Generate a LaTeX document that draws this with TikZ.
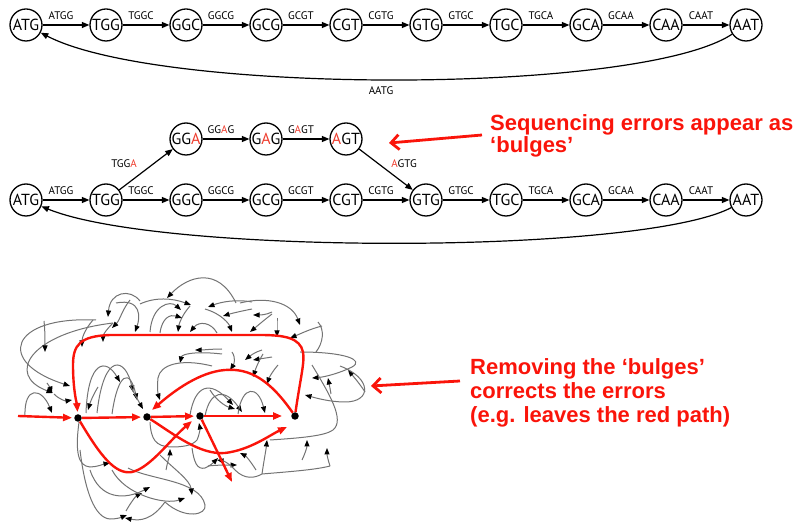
\documentclass[tikz,border=0pt]{standalone}
\usepackage{fontspec}
\newfontfamily\dnafont{PT Sans}
\newfontfamily\notefont{Liberation Sans}
\usetikzlibrary{arrows.meta}
\definecolor{alert}{RGB}{250,20,10}
\definecolor{mut}{RGB}{238,60,45}
\definecolor{wiregray}{RGB}{115,115,115}

\begin{document}
\begin{tikzpicture}[x=1pt,y=-1pt,
  kmer/.style={circle, draw, line width=1.3pt, minimum size=32pt, inner sep=0pt,
    font=\dnafont\fontsize{16}{16}\selectfont},
  link/.style={line width=1.2pt, -{Triangle[length=7.5pt,width=6pt]}},
  lab/.style={font=\dnafont\fontsize{11}{11}\selectfont, inner sep=0pt},
  note/.style={font=\notefont\bfseries\fontsize{22}{24}\selectfont, text=alert,
    anchor=base west, inner sep=0pt},
  pointer/.style={draw=alert, line width=2.8pt, -{Straight Barb[length=8pt,width=15pt]}},
  wire/.style={draw=wiregray, line width=1pt,
    -{Triangle[length=6.5pt,width=5pt,color=black]}},
  plainwire/.style={draw=wiregray, line width=1pt},
  redpath/.style={draw=alert, line width=2.4pt, -{Triangle[length=9pt,width=7pt]}},
  junction/.style={circle, fill=black, minimum size=7.5pt, inner sep=0pt}]

\useasboundingbox (0,0) rectangle (801,526);

% ---------- cyclic de Bruijn path ----------
\foreach \s [count=\i from 0] in {ATG,TGG,GGC,GCG,CGT,GTG,TGC,GCA,CAA,AAT}
  \node[kmer] (t\i) at (26+80*\i,25) {\s};
\foreach \e [count=\i from 0, evaluate=\i as \j using int(\i+1)] in
  {ATGG,TGGC,GGCG,GCGT,CGTG,GTGC,TGCA,GCAA,CAAT}
  \draw[link] (t\i) -- (t\j) node[lab, midway, above=5pt, xshift=-5pt] {\e};
\draw[link] (t9) .. controls (640,95) and (160,95) .. (t0);
\node[lab] (backlab) at (381,91) {AATG};

% ---------- same path with an error bulge ----------
\foreach \s [count=\i from 0] in {ATG,TGG,GGC,GCG,CGT,GTG,TGC,GCA,CAA,AAT}
  \node[kmer] (b\i) at (26+80*\i,200) {\s};
\foreach \e [count=\i from 0, evaluate=\i as \j using int(\i+1)] in
  {ATGG,TGGC,GGCG,GCGT,CGTG,GTGC,TGCA,GCAA,CAAT}
  \draw[link] (b\i) -- (b\j) node[lab, midway, above=5pt, xshift=-5pt] {\e};
\draw[link] (b9) .. controls (640,255) and (160,255) .. (b0);

\node[kmer] (u1) at (186,139) {GG\textcolor{mut}{A}};
\node[kmer] (u2) at (266,139) {G\textcolor{mut}{A}G};
\node[kmer] (u3) at (346,139) {\textcolor{mut}{A}GT};
\draw[link] (b1) -- (u1);
\draw[link] (u1) -- (u2) node[lab, midway, above=5pt, xshift=-5pt] {GG\textcolor{mut}{A}G};
\draw[link] (u2) -- (u3) node[lab, midway, above=5pt, xshift=-5pt] {G\textcolor{mut}{A}GT};
\draw[link] (u3) -- (b5);
\node[lab] (lab1) at (124,164) {TGG\textcolor{mut}{A}};
\node[lab] (lab2) at (404,164) {\textcolor{mut}{A}GTG};

% ---------- annotations ----------
\node[note] (noteA1) at (490,131) {Sequencing errors appear as};
\node[note] (noteA2) at (490,153) {‘bulges’};
\coordinate (tailA) at (482,135);
\coordinate (tipA) at (389,143);
\draw[pointer] (tailA) -- (tipA);

\node[note] (noteB1) at (470,375) {Removing the ‘bulges’};
\node[note] (noteB2) at (470,399) {corrects the errors};
\node[note] (noteB3) at (470,423) {(e.g. leaves the red path)};
\coordinate (tailB) at (460,381);
\coordinate (tipB) at (371,386);
\draw[pointer] (tailB) -- (tipB);

% ---------- tangled graph: grey edges ----------
% outer left loops
\draw[wire] (96,320) .. controls (10,316) and (-5,362) .. (70,386);
\draw[wire] (113,323) .. controls (30,333) and (5,375) .. (53,393);
\draw[wire] (44,321) .. controls (45,330) and (45,340) .. (45,352);
\draw[wire] (93,320) .. controls (86,328) and (82,337) .. (82,347);
\draw[wire] (113,323) .. controls (106,330) and (103,335) .. (103,342);
\draw[wire] (140,301) .. controls (130,288) and (110,292) .. (108,317);
\draw[wire] (130,300) .. controls (122,310) and (120,320) .. (112,328);
% top humps
\draw[wire] (236,303) .. controls (218,266) and (188,276) .. (167,298);
\draw[wire] (140,304) .. controls (155,297) and (172,298) .. (191,305);
\draw[wire] (116,303) .. controls (142,298) and (140,318) .. (135,332);
\draw[wire] (150,332) .. controls (152,305) and (170,300) .. (181,310);
\draw[wire] (190,306) .. controls (182,315) and (179,324) .. (178,332);
\draw[wire] (252,302) .. controls (236,299) and (221,302) .. (208,307);
\draw[wire] (252,309) .. controls (242,311) and (233,313) .. (223,316);
\draw[wire] (205,309) .. controls (222,314) and (229,324) .. (232,332);
\draw[wire] (217,333) .. controls (211,322) and (199,321) .. (190,332);
\draw[wire] (240,303) .. controls (268,296) and (292,303) .. (300,325);
\draw[wire] (272,312) .. controls (266,315) and (260,315) .. (253,315);
\draw[wire] (272,314) .. controls (263,321) and (256,327) .. (250,332);
\draw[wire] (277,318) .. controls (277,325) and (277,331) .. (277,337);
\draw[wire] (322,326) .. controls (310,329) and (300,334) .. (290,338);
\draw[wire] (160,333) .. controls (162,318) and (170,314) .. (182,318);
\draw[plainwire] (318,322) .. controls (325,330) and (323,343) .. (316,352);
% right wing and loop
\draw[wire] (300,352) .. controls (345,352) and (365,360) .. (352,367)
  .. controls (340,373) and (325,377) .. (312,378);
\draw[wire] (331,394) .. controls (330,388) and (329,383) .. (328,378);
\draw[wire] (365,392) .. controls (360,384) and (353,376) .. (348,370);
\draw[wire] (340,366) .. controls (372,378) and (372,402) .. (345,402)
  .. controls (330,402) and (316,398) .. (305,395);
% second layer
\draw[wire] (222,349) .. controls (212,349) and (203,350) .. (195,350);
\draw[wire] (222,354) .. controls (196,351) and (182,354) .. (180,363);
\draw[wire] (212,366) .. controls (180,358) and (160,365) .. (158,378)
  .. controls (157,388) and (158,394) .. (160,400);
\draw[wire] (232,352) .. controls (236,358) and (234,364) .. (230,370);
\draw[wire] (272,357) .. controls (266,358) and (259,359) .. (253,360);
\draw[wire] (263,354) .. controls (257,364) and (255,371) .. (253,377);
\draw[wire] (278,365) .. controls (272,372) and (269,378) .. (267,384);
\draw[wire] (262,350) .. controls (255,352) and (250,356) .. (245,360);
% arches between the junctions
\draw[wire] (86,413) .. controls (88,360) and (106,358) .. (120,382);
\draw[wire] (97,413) .. controls (104,350) and (126,358) .. (133,392);
\draw[wire] (112,414) .. controls (118,372) and (130,368) .. (137,400);
\draw[wire] (98,387) .. controls (93,395) and (90,403) .. (88,410);
\draw[wire] (130,385) .. controls (135,395) and (139,402) .. (143,409);
\draw[wire] (190,415) .. controls (195,385) and (210,380) .. (233,405);
\draw[wire] (205,416) .. controls (210,390) and (225,388) .. (242,412);
\draw[wire] (238,414) .. controls (242,385) and (258,385) .. (265,413);
\draw[wire] (210,390) .. controls (216,400) and (225,406) .. (235,409);
% lower left
\draw[wire] (25,416) .. controls (24,385) and (42,388) .. (52,413);
\draw[wire] (47,383) .. controls (50,387) and (51,390) .. (52,393);
\draw[wire] (54,394) .. controls (60,400) and (66,401) .. (72,400);
\draw[wire] (79,422) .. controls (75,452) and (78,466) .. (90,467)
  .. controls (97,467) and (104,464) .. (110,463);
\draw[wire] (80,450) .. controls (85,492) and (95,518) .. (110,519)
  .. controls (118,519) and (122,517) .. (127,515);
\draw[wire] (165,502) .. controls (152,520) and (140,521) .. (125,518);
\draw[wire] (126,511) .. controls (131,502) and (136,496) .. (142,493);
\draw[wire] (112,470) .. controls (125,495) and (165,505) .. (185,498);
\draw[wire] (90,470) .. controls (100,500) and (125,500) .. (150,487);
\draw[plainwire] (128,468) .. controls (150,480) and (200,480) .. (205,505)
  .. controls (207,515) and (185,520) .. (165,502);
% lower middle
\draw[wire] (150,422) .. controls (151,440) and (156,446) .. (170,447)
  .. controls (182,447) and (192,446) .. (197,440)
  .. controls (200,433) and (200,428) .. (199,423);
\draw[wire] (166,470) .. controls (168,460) and (170,453) .. (170,449);
\draw[wire] (192,448) .. controls (194,462) and (197,470) .. (205,468)
  .. controls (210,466) and (214,462) .. (218,458);
\draw[wire] (208,466) .. controls (216,465) and (228,465) .. (237,465);
\draw[wire] (160,455) .. controls (175,470) and (190,480) .. (192,495);
% lower right
\draw[wire] (262,474) .. controls (264,460) and (266,450) .. (267,440);
\draw[wire] (256,470) .. controls (251,462) and (246,456) .. (240,453);
\draw[wire] (235,470) .. controls (230,464) and (224,461) .. (217,460);
\draw[wire] (302,460) .. controls (305,454) and (307,447) .. (307,440);
\draw[wire] (330,466) .. controls (328,460) and (327,455) .. (327,448);
\draw[plainwire] (312,365) .. controls (330,395) and (345,420) .. (333,430)
  .. controls (325,436) and (300,438) .. (270,440);
\draw[plainwire] (262,474) .. controls (285,472) and (315,470) .. (330,466);
\draw[plainwire] (235,470) .. controls (245,480) and (255,478) .. (262,474);

% ---------- tangled graph: the surviving red path ----------
\coordinate (entry) at (18,416);
\node[junction] (n1) at (78,418) {};
\node[junction] (n2) at (147,417) {};
\node[junction] (n3) at (200,416) {};
\node[junction] (n4) at (295,416) {};
\coordinate (n1end) at (192,421);
\coordinate (n2end) at (287,427);
\coordinate (n3end) at (232,482);
\coordinate (n4end) at (152,410);

\draw[redpath, shorten >=2pt] (entry) -- (n1);
\draw[redpath, shorten >=2pt] (n1) -- (n2);
\draw[redpath, shorten >=2pt] (n2) -- (n3);
\draw[redpath, shorten >=9pt] (n3) -- (n4);
\draw[redpath, shorten >=2pt] (n4) .. controls (300,380) and (305,362) .. (303,352)
  .. controls (300,338) and (285,335) .. (260,335) -- (110,335)
  .. controls (80,336) and (73,345) .. (73,365)
  .. controls (73,390) and (77,405) .. (n1);
\draw[redpath] (n1) .. controls (100,455) and (115,475) .. (132,472)
  .. controls (150,468) and (170,440) .. (n1end);
\draw[redpath] (n2) .. controls (175,435) and (200,455) .. (225,453)
  .. controls (250,450) and (270,435) .. (n2end);
\draw[redpath] (n4) .. controls (270,380) and (250,368) .. (225,370)
  .. controls (200,372) and (175,390) .. (n4end);
\draw[redpath] (n3) -- (n3end);
\end{tikzpicture}
\end{document}
